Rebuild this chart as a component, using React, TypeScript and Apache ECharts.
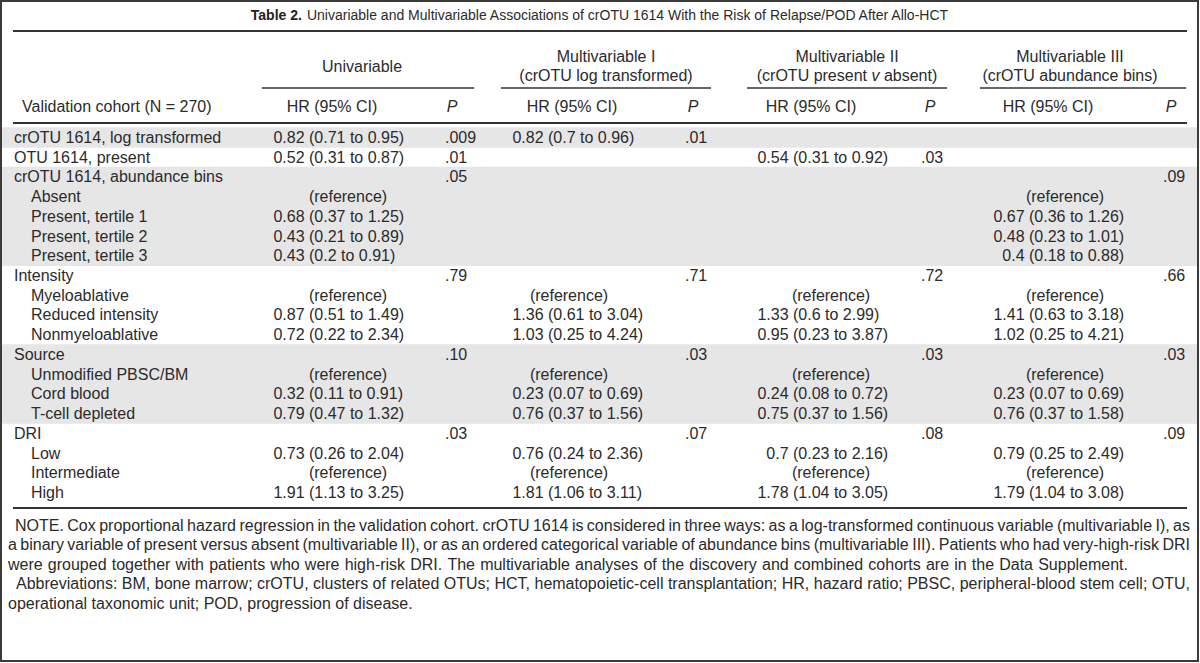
import React, { useEffect, useRef } from "react";
import * as echarts from "echarts";

// ---------------- DATA ----------------
const TITLE_BOLD = "Table 2.";
const TITLE_TEXT =
  "Univariable and Multivariable Associations of crOTU 1614 With the Risk of Relapse/POD After Allo-HCT";
const GROUPS = ["Univariable", "Multivariable I", "Multivariable II", "Multivariable III"];
const GROUP_SUB = ["", "(crOTU log transformed)", "(crOTU present {i|v} absent)", "(crOTU abundance bins)"];
const STUB_HEADER = "Validation cohort (N = 270)";
const COL_HR = "HR (95% CI)";
const COL_P = "P";
const REF_TEXT = "(reference)";

const rowLabels = [
  "crOTU 1614, log transformed",
  "OTU 1614, present",
  "crOTU 1614, abundance bins",
  "Absent",
  "Present, tertile 1",
  "Present, tertile 2",
  "Present, tertile 3",
  "Intensity",
  "Myeloablative",
  "Reduced intensity",
  "Nonmyeloablative",
  "Source",
  "Unmodified PBSC/BM",
  "Cord blood",
  "T-cell depleted",
  "DRI",
  "Low",
  "Intermediate",
  "High",
];
const rowIndent = [0, 0, 0, 1, 1, 1, 1, 0, 1, 1, 1, 0, 1, 1, 1, 0, 1, 1, 1];
const shadedRows = [0, 2, 3, 4, 5, 6, 11, 12, 13, 14];

type HRv = number | "ref" | null;
const univHR: HRv[] = [0.82, 0.52, null, "ref", 0.68, 0.43, 0.43, null, "ref", 0.87, 0.72, null, "ref", 0.32, 0.79, null, 0.73, "ref", 1.91];
const univLo = [0.71, 0.31, null, null, 0.37, 0.21, 0.2, null, null, 0.51, 0.22, null, null, 0.11, 0.47, null, 0.26, null, 1.13];
const univHi = [0.95, 0.87, null, null, 1.25, 0.89, 0.91, null, null, 1.49, 2.34, null, null, 0.91, 1.32, null, 2.04, null, 3.25];
const univP = [".009", ".01", ".05", "", "", "", "", ".79", "", "", "", ".10", "", "", "", ".03", "", "", ""];

const mv1HR: HRv[] = [0.82, null, null, null, null, null, null, null, "ref", 1.36, 1.03, null, "ref", 0.23, 0.76, null, 0.76, "ref", 1.81];
const mv1Lo = [0.7, null, null, null, null, null, null, null, null, 0.61, 0.25, null, null, 0.07, 0.37, null, 0.24, null, 1.06];
const mv1Hi = [0.96, null, null, null, null, null, null, null, null, 3.04, 4.24, null, null, 0.69, 1.56, null, 2.36, null, 3.11];
const mv1P = [".01", "", "", "", "", "", "", ".71", "", "", "", ".03", "", "", "", ".07", "", "", ""];

const mv2HR: HRv[] = [null, 0.54, null, null, null, null, null, null, "ref", 1.33, 0.95, null, "ref", 0.24, 0.75, null, 0.7, "ref", 1.78];
const mv2Lo = [null, 0.31, null, null, null, null, null, null, null, 0.6, 0.23, null, null, 0.08, 0.37, null, 0.23, null, 1.04];
const mv2Hi = [null, 0.92, null, null, null, null, null, null, null, 2.99, 3.87, null, null, 0.72, 1.56, null, 2.16, null, 3.05];
const mv2P = ["", ".03", "", "", "", "", "", ".72", "", "", "", ".03", "", "", "", ".08", "", "", ""];

const mv3HR: HRv[] = [null, null, null, "ref", 0.67, 0.48, 0.4, null, "ref", 1.41, 1.02, null, "ref", 0.23, 0.76, null, 0.79, "ref", 1.79];
const mv3Lo = [null, null, null, null, 0.36, 0.23, 0.18, null, null, 0.63, 0.25, null, null, 0.07, 0.37, null, 0.25, null, 1.04];
const mv3Hi = [null, null, null, null, 1.26, 1.01, 0.88, null, null, 3.18, 4.21, null, null, 0.69, 1.58, null, 2.49, null, 3.08];
const mv3P = ["", "", ".09", "", "", "", "", ".66", "", "", "", ".03", "", "", "", ".09", "", "", ""];

const noteLines = [
  "NOTE. Cox proportional hazard regression in the validation cohort. crOTU 1614 is considered in three ways: as a log-transformed continuous variable (multivariable I), as",
  "a binary variable of present versus absent (multivariable II), or as an ordered categorical variable of abundance bins (multivariable III). Patients who had very-high-risk DRI",
  "were grouped together with patients who were high-risk DRI. The multivariable analyses of the discovery and combined cohorts are in the Data Supplement.",
  "Abbreviations: BM, bone marrow; crOTU, clusters of related OTUs; HCT, hematopoietic-cell transplantation; HR, hazard ratio; PBSC, peripheral-blood stem cell; OTU,",
  "operational taxonomic unit; POD, progression of disease.",
];

// ---------------- LAYOUT / STYLE ----------------
const W = 1200;
const H = 663;
const FONT = "Liberation Sans";
const FS = 16;
const TITLE_FS = 14;
const INK = "#2b2b2b";
const RULE = "#333333";
const BAND = "#e6e6e6";
const ROW0 = 137.5;
const PITCH = 19.72;

const models = [
  { hr: univHR, lo: univLo, hi: univHi, p: univP },
  { hr: mv1HR, lo: mv1Lo, hi: mv1Hi, p: mv1P },
  { hr: mv2HR, lo: mv2Lo, hi: mv2Hi, p: mv2P },
  { hr: mv3HR, lo: mv3Lo, hi: mv3Hi, p: mv3P },
];
const colLayout = [
  { paren: 309, p: 445, ref: 348, hrHead: 332, pHead: 452 },
  { paren: 548, p: 685, ref: 569, hrHead: 572, pHead: 693 },
  { paren: 793, p: 921, ref: 831, hrHead: 811, pHead: 930 },
  { paren: 1029, p: 1163, ref: 1065, hrHead: 1048, pHead: 1171 },
];
const groupLayout = [
  { x1: 262, x2: 474, cx: 362 },
  { x1: 501, x2: 711, cx: 606 },
  { x1: 747, x2: 947, cx: 847 },
  { x1: 980, x2: 1186, cx: 1070 },
];
const Y = {
  title: 15,
  titleRule: 31,
  groupL1: 56,
  groupL2: 75,
  groupSingle: 66,
  groupRule: 88,
  sub: 106,
  headRule: 123,
  bottomRule: 508,
  note0: 525,
  notePitch: 19.5,
};
const noteLayout = [
  { left: 15, right: 1190, justify: true },
  { left: 8, right: 1190, justify: true },
  { left: 8, right: 1128, justify: true },
  { left: 16, right: 1190, justify: true },
  { left: 8, right: 0, justify: false },
];

let measureCtx: CanvasRenderingContext2D | null = null;
function measure(text: string, size: number): number {
  if (!measureCtx) measureCtx = document.createElement("canvas").getContext("2d");
  measureCtx!.font = `${size}px "${FONT}"`;
  return measureCtx!.measureText(text).width;
}

function txt(x: number, y: number, text: string, align: string, extra: any = {}) {
  return {
    type: "text",
    x,
    y,
    style: {
      text,
      fill: INK,
      fontSize: FS,
      fontFamily: FONT,
      align,
      verticalAlign: "middle",
      ...extra,
    },
  };
}

function buildGraphics() {
  const g: any[] = [];
  g.push({ type: "rect", z: 100, shape: { x: 1, y: 1, width: 1197, height: 660 }, style: { fill: "none", stroke: "#3a3a3a", lineWidth: 2 } });
  g.push(
    txt(600, Y.title, `{b|${TITLE_BOLD}} ${TITLE_TEXT}`, "center", {
      fontSize: TITLE_FS,
      rich: { b: { fontWeight: "bold", fontSize: TITLE_FS, fontFamily: FONT, fill: "#222" } },
    })
  );
  g.push({ type: "line", shape: { x1: 13, y1: Y.titleRule, x2: 1187, y2: Y.titleRule }, style: { stroke: RULE, lineWidth: 2 } });
  GROUPS.forEach((name, k) => {
    const gl = groupLayout[k];
    if (GROUP_SUB[k]) {
      g.push(txt(gl.cx, Y.groupL1, name, "center"));
      g.push(
        txt(gl.cx, Y.groupL2, GROUP_SUB[k], "center", {
          rich: { i: { fontStyle: "italic", fontSize: FS, fontFamily: FONT, fill: INK } },
        })
      );
    } else {
      g.push(txt(gl.cx, Y.groupSingle, name, "center"));
    }
    g.push({ type: "line", shape: { x1: gl.x1, y1: Y.groupRule, x2: gl.x2, y2: Y.groupRule }, style: { stroke: RULE, lineWidth: 1.5 } });
    const cl = colLayout[k];
    g.push(txt(cl.hrHead, Y.sub, COL_HR, "center"));
    g.push(txt(cl.pHead, Y.sub, COL_P, "center", { fontStyle: "italic" }));
  });
  g.push(txt(22, Y.sub, STUB_HEADER, "left"));
  g.push({ type: "line", shape: { x1: 13, y1: Y.headRule, x2: 1187, y2: Y.headRule }, style: { stroke: RULE, lineWidth: 2 } });
  g.push({ type: "line", shape: { x1: 13, y1: Y.bottomRule, x2: 1187, y2: Y.bottomRule }, style: { stroke: RULE, lineWidth: 2 } });
  noteLines.forEach((line, k) => {
    const nl = noteLayout[k];
    const y = Y.note0 + k * Y.notePitch;
    if (!nl.justify) {
      g.push(txt(nl.left, y, line, "left"));
      return;
    }
    const words = line.split(" ");
    const widths = words.map((w) => measure(w, FS));
    const total = widths.reduce((a, b) => a + b, 0);
    const gap = Math.max(2, (nl.right - nl.left - total) / (words.length - 1));
    let x = nl.left;
    words.forEach((w, j) => {
      g.push(txt(x, y, w, "left"));
      x += widths[j] + gap;
    });
  });
  return g;
}

function buildOption(): any {
  const spaceW = measure(" ", FS);
  return {
    animation: false,
    backgroundColor: "#ffffff",
    grid: { left: 0, right: 0, top: ROW0 - PITCH / 2, height: PITCH * rowLabels.length, containLabel: false },
    xAxis: { type: "value", min: 0, max: W, show: false },
    yAxis: { type: "category", data: rowLabels, inverse: true, show: false },
    series: [
      {
        type: "custom",
        z: 1,
        silent: true,
        encode: { x: 0, y: 1 },
        data: shadedRows.map((i) => [0, i]),
        renderItem: (_p: any, api: any) => {
          const i = api.value(1);
          const c = api.coord([0, i]);
          const h = api.size([0, 1])[1];
          return {
            type: "rect",
            shape: { x: 2, y: c[1] - h / 2 - 0.3, width: 1196, height: h + 0.6 },
            style: { fill: BAND },
          };
        },
      },
      {
        type: "custom",
        z: 2,
        silent: true,
        encode: { x: 0, y: 1 },
        data: rowLabels.map((_, i) => [0, i]),
        renderItem: (_p: any, api: any) => {
          const i = api.value(1);
          const cy = api.coord([0, i])[1];
          const children: any[] = [];
          children.push(txt(rowIndent[i] ? 31 : 14, cy, rowLabels[i], "left"));
          models.forEach((m, k) => {
            const cl = colLayout[k];
            const v = m.hr[i];
            if (v === "ref") {
              children.push(txt(cl.ref, cy, REF_TEXT, "center"));
            } else if (v !== null) {
              children.push(txt(cl.paren - spaceW, cy, String(v), "right"));
              children.push(txt(cl.paren, cy, `(${m.lo[i]} to ${m.hi[i]})`, "left"));
            }
            if (m.p[i]) children.push(txt(cl.p, cy, m.p[i], "left"));
          });
          return { type: "group", children };
        },
      },
    ],
    graphic: { elements: buildGraphics() },
  };
}

export default function App() {
  const ref = useRef<HTMLDivElement>(null);
  useEffect(() => {
    const el = ref.current;
    if (!el) return;
    const chart = echarts.init(el, null, { renderer: "svg", width: W, height: H });
    chart.setOption(buildOption());
    return () => chart.dispose();
  }, []);
  return (
    <div
      ref={ref}
      style={{ position: "fixed", left: 0, top: 0, width: W, height: H, background: "#fff" }}
    />
  );
}
